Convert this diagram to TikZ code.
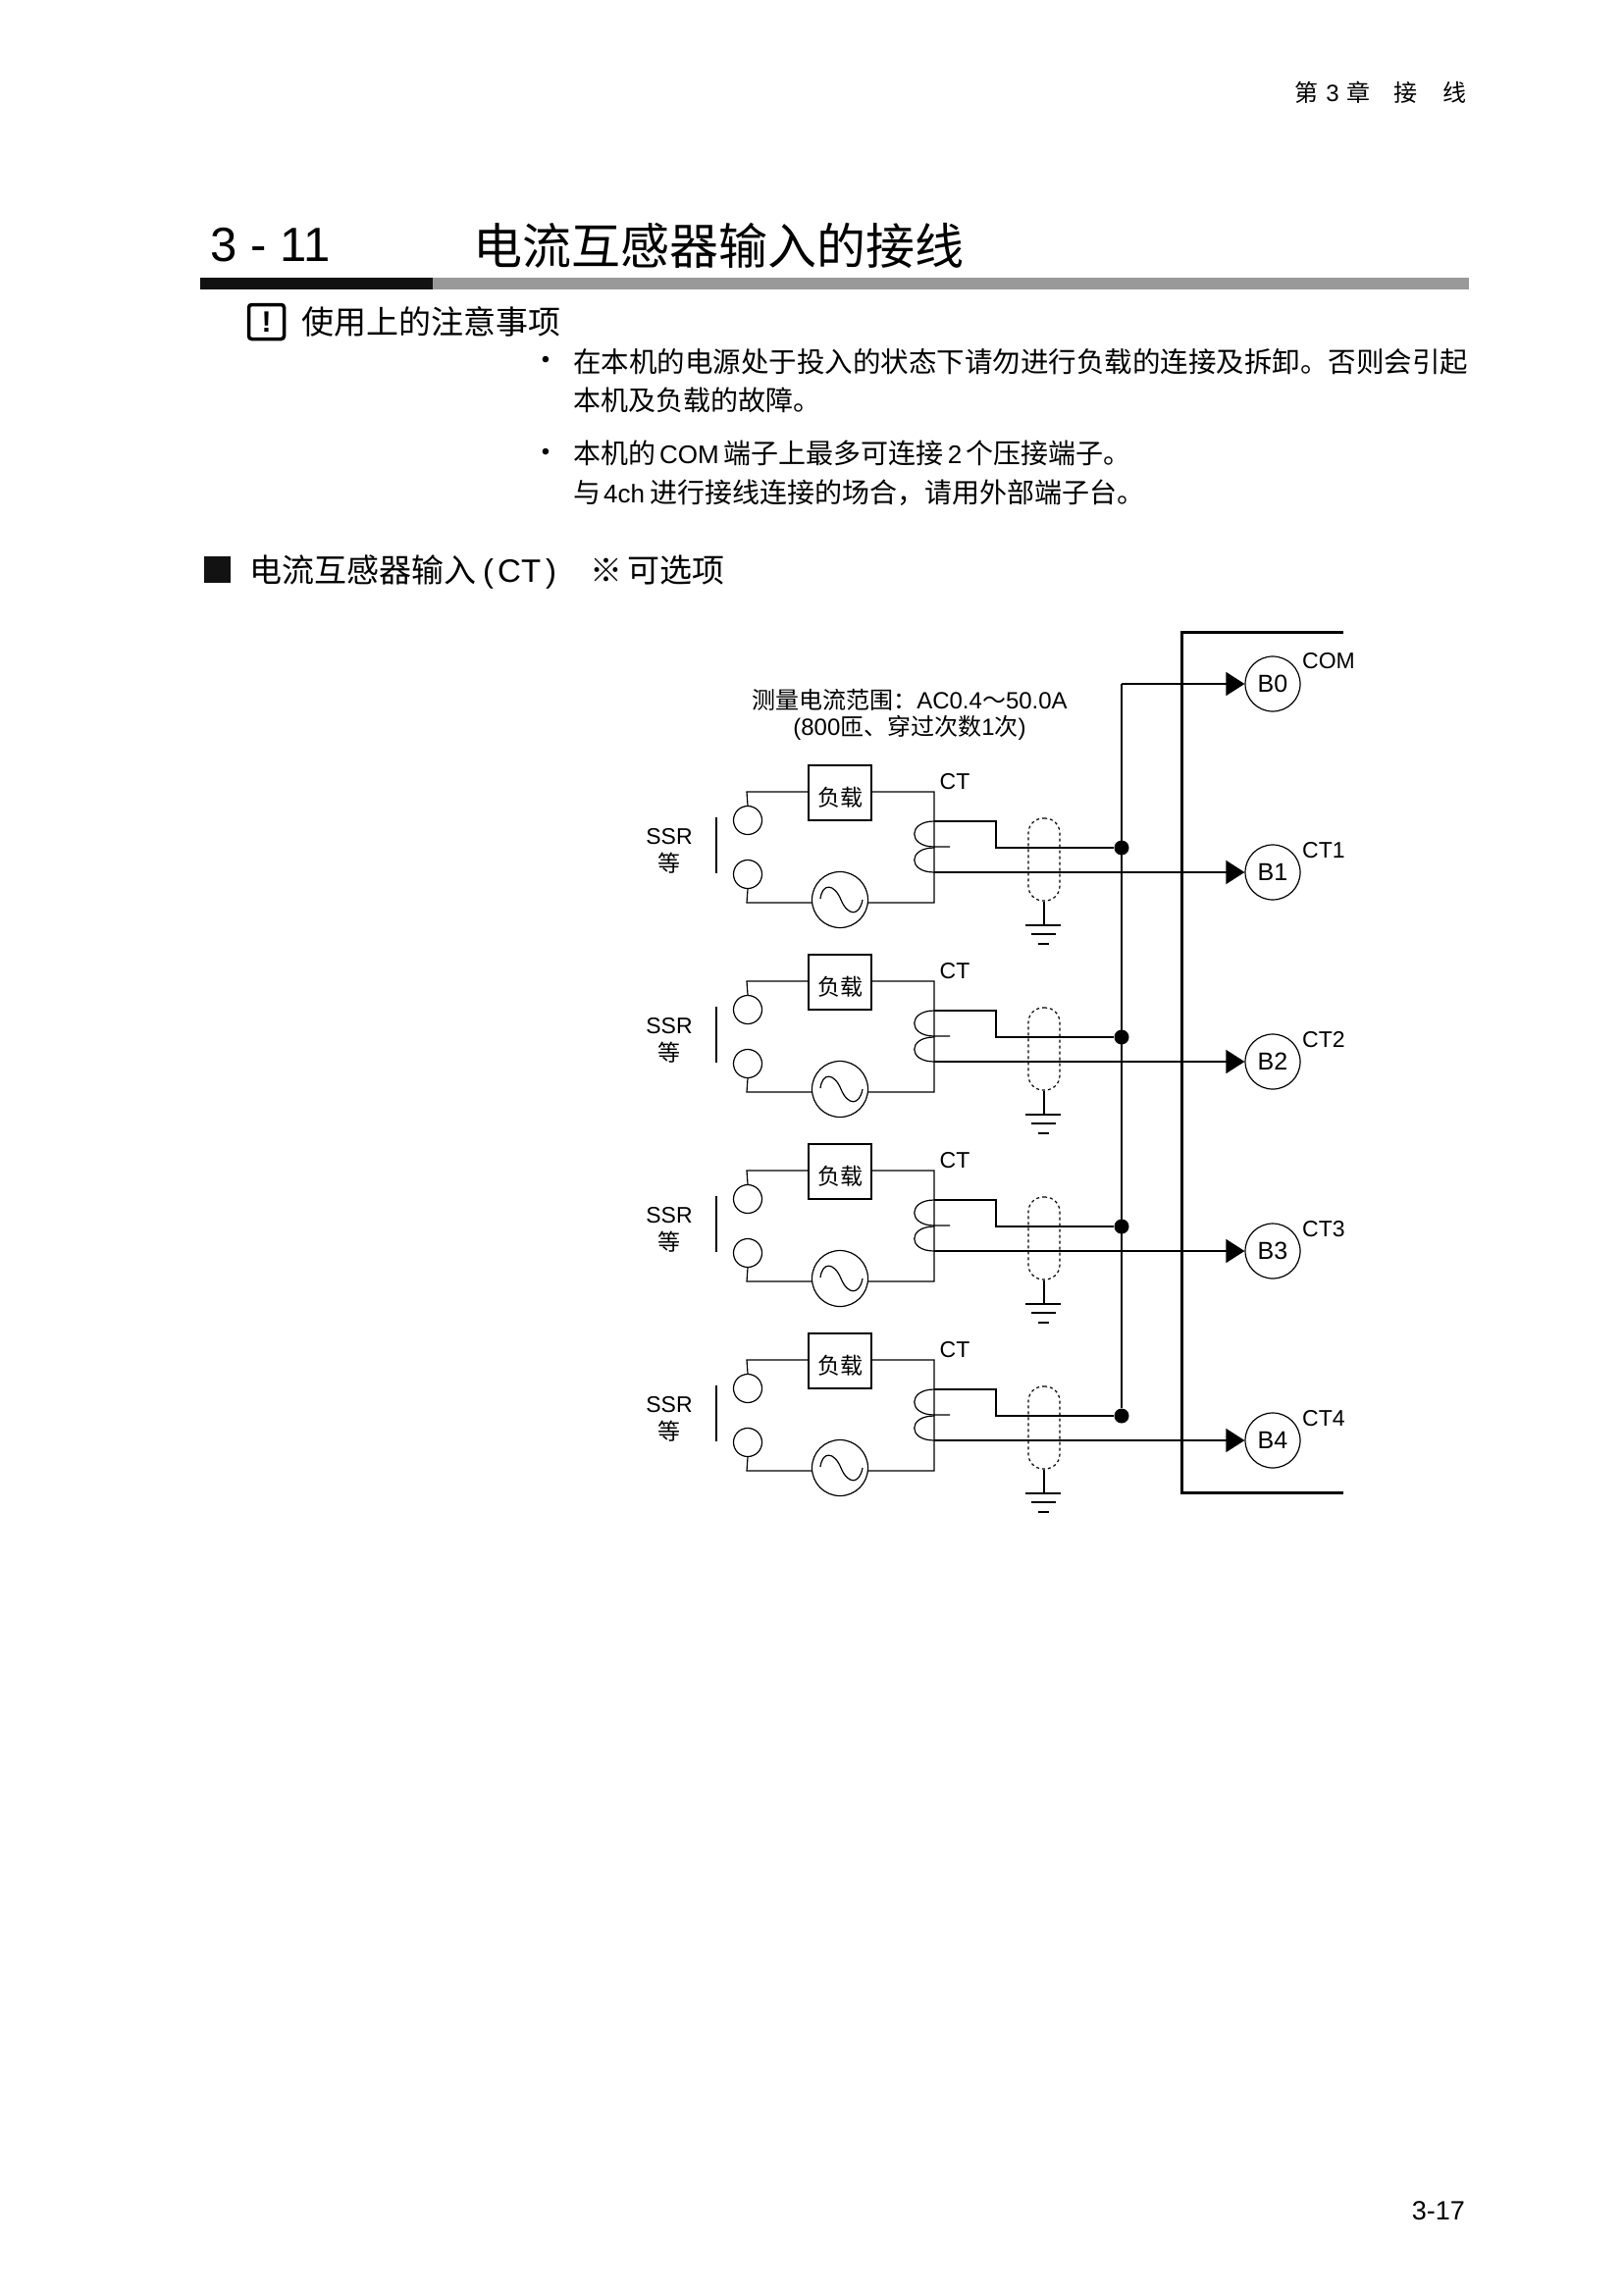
\documentclass[tikz,border=0pt]{standalone}
\usepackage{fontspec}
\usepackage{tikz}
\setmainfont{Liberation Sans}
\newfontfamily\cjk{Noto Sans CJK SC}
\usetikzlibrary{
    arrows.meta,
    positioning,
    calc
}
\newcommand\lat[1]{{\fontsize{26}{26}\selectfont\rmfamily #1}}
\tikzset{
    txt/.style={inner sep=0pt, font=\fontsize{#1}{#1}\selectfont},
    wire/.style={line width=1.2pt},
    loadbox/.style={draw, line width=1.2pt, fill=white, minimum width=64pt, minimum height=56pt, inner sep=0pt, font=\fontsize{23}{23}\selectfont\cjk},
    contact/.style={draw, circle, line width=1.2pt, fill=white, minimum size=29pt, inner sep=0pt},
    source/.style={draw, circle, line width=1.2pt, fill=white, minimum size=57pt, inner sep=0pt},
    term/.style={draw, circle, line width=1.2pt, fill=white, minimum size=56pt, inner sep=0pt, font=\fontsize{25}{25}\selectfont},
    joint/.style={circle, fill=black, minimum size=15pt, inner sep=0pt},
    shield/.style={draw, dashed, line width=1.2pt, rounded corners=15pt, minimum width=32pt, minimum height=84pt, inner sep=0pt},
    tip/.style={-{Triangle[length=19pt,width=24pt]}}
}
\begin{document}
\begin{tikzpicture}[x=1pt, y=-1pt]
    \useasboundingbox (0, 0) rectangle (1654, 2339);
    % page text
    \node[txt=24, anchor=east] (head) at (1495, 94) {\cjk 第\hspace{8pt}\rmfamily 3\hspace{8pt}\cjk 章\hspace{24pt}接\hspace{26pt}线};
    \node[txt=49, anchor=west] (num) at (214.5, 250) {3 - 11};
    \node[txt=50, anchor=west] (title) at (482, 250) {\cjk 电流互感器输入的接线};
    \fill[black!93] (204, 283) rectangle (441, 295);
    \fill[black!40] (441, 283) rectangle (1497, 295);
    \node[draw, line width=3.5pt, rounded corners=3pt, minimum width=36pt, minimum height=35pt, inner sep=0pt, font=\fontsize{30}{30}\selectfont\bfseries] (warn) at (271.5, 328) {!};
    \node[txt=33, anchor=west] (note) at (307.5, 328) {\cjk 使用上的注意事项};
    \node[txt=24] (p1) at (556, 369) {\textbullet};
    \node[txt=28.5, anchor=west] (l1) at (584, 369) {\cjk 在本机的电源处于投入的状态下请勿进行负载的连接及拆卸。否则会引起};
    \node[txt=28, anchor=west] (l2) at (584, 408) {\cjk 本机及负载的故障。};
    \node[txt=24] (p2) at (556, 463) {\textbullet};
    \node[txt=28, anchor=west] (l3) at (584, 462) {\cjk 本机的\hspace{4pt}\lat{COM}\hspace{5pt}端子上最多可连接\hspace{4pt}\lat{2}\hspace{4pt}个压接端子。};
    \node[txt=28, anchor=west] (l4) at (584, 502) {\cjk 与\hspace{3pt}\lat{4ch}\hspace{5pt}进行接线连接的场合，请用外部端子台。};
    \fill[black!93] (208, 567) rectangle (235, 594);
    \node[txt=33, anchor=west] (sec) at (254, 583) {\cjk 电流互感器输入\hspace{7pt}\rmfamily (\hspace{4pt}CT\hspace{5pt})\hspace{34pt}\cjk ※\hspace{5pt}可选项};
    \node[txt=27, anchor=east] (page) at (1493, 2253) {3-17};

    % terminal frame
    \draw[line width=3pt] (1369, 644) -- (1204, 644) -- (1204, 1521) -- (1369, 1521);
    \node[txt=24, align=center] (range) at (927, 728) {\cjk 测量电流范围：\rmfamily AC0.4\cjk ～\rmfamily 50.0A\\[3pt]\rmfamily (800\cjk 匝、穿过次数\rmfamily 1\cjk 次\rmfamily )};
    \node[term] (b0) at (1297, 697) {B0};
    \node[txt=23, anchor=west] (com) at (1327, 674) {COM};
    \coordinate (bus) at (1143, 697);
    \draw[wire, tip] (bus) -- (b0.west);

    \foreach \i/\lab in {0/CT1, 1/CT2, 2/CT3, 3/CT4} {
        \begin{scope}[yshift=-193pt*\i]
            \node[loadbox] (load\i) at (856, 808) {\rule{0pt}{28pt}负载};
            \node[contact] (upper\i) at (762, 836) {};
            \node[contact] (lower\i) at (762, 891) {};
            \node[source] (ac\i) at (856, 917) {};
            \node[txt=23] (ct\i) at (973, 797) {CT};
            \node[txt=23] (ssr\i) at (682, 853) {SSR};
            \node[txt=23, font=\fontsize{23}{23}\selectfont\cjk] (etc\i) at (682, 880) {等};
            \node[shield] (sh\i) at (1064, 876) {};
            \node[joint] (j\i) at (1143, 864) {};
            \node[term] (t\i) at (1297, 889) {B\the\numexpr\i+1\relax};
            \node[txt=23, anchor=west] (tl\i) at (1327, 867) {\lab};
            \coordinate (gnd\i) at (1064, 943);
            % load loop
            \draw[wire]
            (upper\i.north) -- (761, 807) -- (load\i.west |- 0, 807)
            (load\i.east |- 0, 807) -- (952, 807) -- (952, 920) -- (ac\i.east |- 0, 920)
            (ac\i.west |- 0, 920) -- (761, 920) -- (lower\i.south);
            \draw[wire] (730, 833) -- (730, 890);
            % coil
            \draw[wire] (952, 837) .. controls (925, 837) and (925, 863) .. (952, 863) -- (968, 863);
            \draw[wire] (952, 864) .. controls (925, 864) and (925, 889) .. (952, 889);
            \draw[wire] (952, 837) -- (1015, 837) -- (1015, 864) -- (j\i);
            \draw[wire, tip] (952, 889) -- (t\i.west);
            % sine
            \draw[wire] (836, 916) .. controls (838, 900) and (850, 900) .. (857, 917) .. controls (864, 934) and (876, 934) .. (879, 917);
            % ground
            \draw[wire] (sh\i.south) -- (gnd\i);
            \draw[wire] (1045, 943) -- (1081, 943) (1051, 952) -- (1076, 952) (1058, 962) -- (1069, 962);
        \end{scope}
    }
    \draw[wire] (bus) -- (j3);
\end{tikzpicture}
\end{document}
